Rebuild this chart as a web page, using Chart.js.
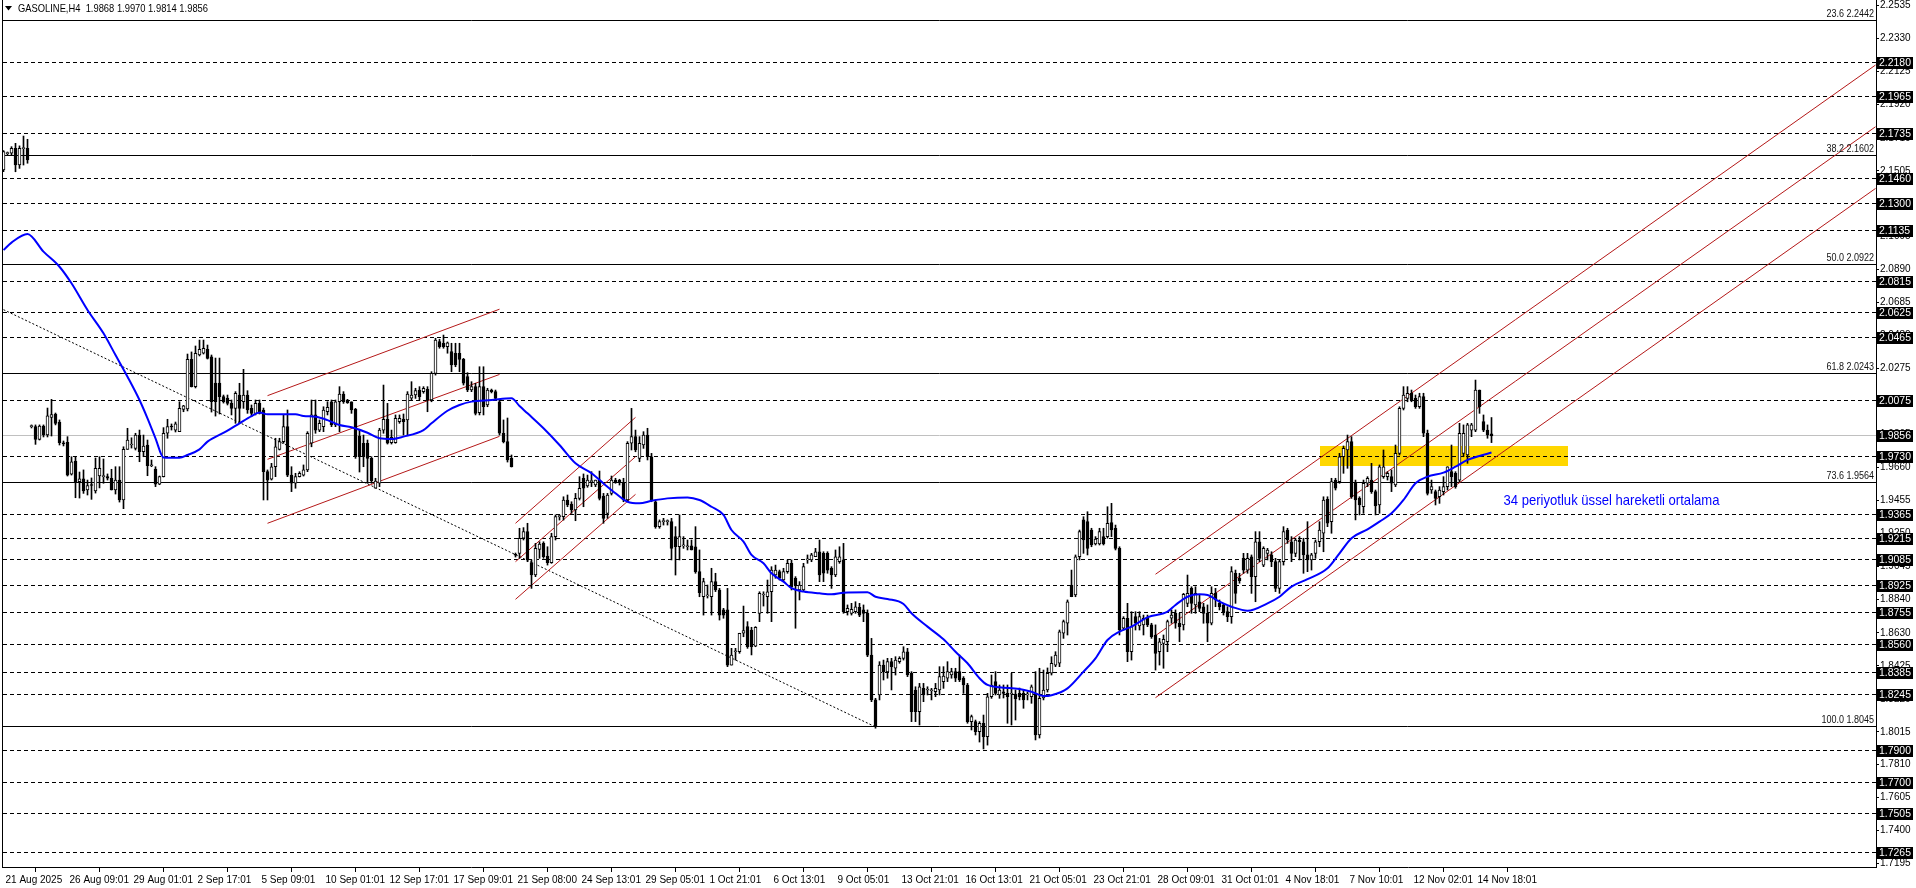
<!DOCTYPE html>
<html><head><meta charset="utf-8">
<script src="https://cdn.jsdelivr.net/npm/chart.js@4.4.1/dist/chart.umd.min.js"></script>
<style>html,body{margin:0;padding:0;background:#fff;overflow:hidden}#wrap{width:1916px;height:888px;position:relative}canvas{display:block}</style>
</head><body><div id="wrap"><canvas id="c" width="1916" height="888"></canvas></div>
<script>
// ---------- DATA ----------
const symbolTitle = 'GASOLINE,H4  1.9868 1.9970 1.9814 1.9856';
const timeLabels = ['21 Aug 2025','26 Aug 09:01','29 Aug 01:01','2 Sep 17:01','5 Sep 09:01','10 Sep 01:01','12 Sep 17:01','17 Sep 09:01','21 Sep 08:00','24 Sep 13:01','29 Sep 05:01','1 Oct 21:01','6 Oct 13:01','9 Oct 05:01','13 Oct 21:01','16 Oct 13:01','21 Oct 05:01','23 Oct 21:01','28 Oct 09:01','31 Oct 01:01','4 Nov 18:01','7 Nov 10:01','12 Nov 02:01','14 Nov 18:01'];
const timeLabelBars = [0,16,32,48,64,80,96,112,128,144,160,176,192,208,224,240,256,272,288,304,320,336,352,368];
const priceTicks = [2.2535,2.2330,2.2125,2.1920,2.1710,2.1505,2.1300,2.1095,2.0890,2.0685,2.0480,2.0275,2.0070,1.9865,1.9660,1.9455,1.9250,1.9045,1.8840,1.8630,1.8425,1.8220,1.8015,1.7810,1.7605,1.7400,1.7195];
const priceMin = 1.71736, priceMax = 2.25676;

const opens = [
2.1510,2.1612,2.1614,2.1645,2.1541,2.1643,2.1645,1.9913,1.9913,1.9834,
1.9917,1.9861,1.9970,1.9992,1.9942,1.9813,1.9816,1.9618,1.9699,1.9571,
1.9589,1.9519,1.9550,1.9514,1.9606,1.9602,1.9602,1.9592,1.9519,1.9581,
1.9457,1.9772,1.9799,1.9778,1.9861,1.9757,1.9799,1.9670,1.9650,1.9556,
1.9602,1.9872,1.9913,1.9892,1.9882,2.0021,2.0023,2.0332,2.0162,2.0359,
2.0370,2.0394,2.0348,2.0185,2.0185,2.0100,2.0091,2.0058,2.0027,2.0110,
2.0068,2.0110,2.0027,1.9996,2.0058,2.0017,1.9633,1.9586,1.9664,1.9772,
1.9820,1.9913,1.9612,1.9561,1.9602,1.9612,1.9644,1.9810,1.9986,1.9892,
1.9913,2.0006,2.0068,1.9924,2.0068,2.0116,2.0079,2.0068,2.0021,1.9855,
1.9810,1.9810,1.9716,1.9530,1.9561,1.9892,1.9959,1.9813,1.9813,1.9944,
1.9961,1.9955,2.0091,2.0110,2.0141,2.0131,2.0146,2.0079,2.0245,2.0442,
2.0432,2.0411,2.0380,2.0370,2.0370,2.0332,2.0224,2.0141,2.0162,2.0000,
2.0162,2.0048,2.0141,2.0131,2.0068,1.9872,1.9820,1.9716,1.9115,1.9125,
1.9219,1.9260,1.9067,1.8990,1.9150,1.9187,1.9108,1.9067,1.9229,1.9353,
1.9353,1.9457,1.9432,1.9395,1.9467,1.9592,1.9544,1.9571,1.9550,1.9581,
1.9482,1.9374,1.9498,1.9581,1.9581,1.9561,1.9457,1.9810,1.9851,1.9716,
1.9799,1.9861,1.9726,1.9446,1.9291,1.9322,1.9322,1.9322,1.9229,1.9166,
1.9171,1.9166,1.9171,1.9166,1.9011,1.8855,1.8860,1.8855,1.8949,1.8897,
1.8773,1.8773,1.8430,1.8513,1.8513,1.8628,1.8669,1.8648,1.8548,1.8752,
1.8866,1.8855,1.8886,1.8990,1.9011,1.8959,1.9011,1.9063,1.8970,1.8897,
1.8897,1.9084,1.9084,1.9104,1.9135,1.9125,1.9125,1.9032,1.8990,1.9073,
1.9084,1.8762,1.8752,1.8762,1.8789,1.8773,1.8752,1.8492,1.8213,1.8244,
1.8430,1.8388,1.8451,1.8410,1.8451,1.8472,1.8513,1.8379,1.8275,1.8140,
1.8285,1.8275,1.8270,1.8264,1.8275,1.8327,1.8348,1.8368,1.8389,1.8389,
1.8348,1.8306,1.8078,1.8078,1.8015,1.8068,1.7984,1.8233,1.8327,1.8244,
1.8264,1.8254,1.8250,1.8250,1.8254,1.8254,1.8244,1.8233,1.8254,1.7995,
1.8225,1.8275,1.8379,1.8430,1.8441,1.8628,1.8690,1.8928,1.8866,1.9104,
1.9333,1.9322,1.9270,1.9183,1.9183,1.9229,1.9229,1.9316,1.9281,1.9156,
1.8659,1.8721,1.8513,1.8731,1.8673,1.8680,1.8721,1.8680,1.8617,1.8513,
1.8565,1.8575,1.8721,1.8752,1.8690,1.8680,1.8814,1.8907,1.8804,1.8824,
1.8793,1.8752,1.8690,1.8876,1.8814,1.8804,1.8762,1.8731,1.9001,1.8970,
1.9094,1.9021,1.9104,1.8980,1.9197,1.9052,1.9125,1.9115,1.9073,1.8907,
1.9073,1.9270,1.9197,1.9125,1.9208,1.9197,1.9115,1.9084,1.9125,1.9197,
1.9250,1.9461,1.9322,1.9581,1.9571,1.9726,1.9768,1.9820,1.9561,1.9467,
1.9415,1.9561,1.9581,1.9509,1.9426,1.9602,1.9602,1.9602,1.9550,1.9747,
2.0027,2.0089,2.0121,2.0089,2.0037,2.0100,1.9872,1.9519,1.9509,1.9477,
1.9509,1.9540,1.9633,1.9623,1.9581,1.9747,1.9737,1.9892,1.9892,2.0141,
1.9944,1.9892,1.9868];

const highs = [
2.1630,2.1622,2.1655,2.1676,2.1660,2.1721,2.1701,1.9924,1.9924,1.9924,
1.9924,2.0029,2.0083,1.9998,1.9955,1.9824,1.9851,1.9726,1.9726,1.9631,
1.9644,1.9581,1.9594,1.9718,1.9726,1.9712,1.9619,1.9648,1.9664,1.9664,
1.9788,1.9903,1.9844,1.9872,1.9892,1.9861,1.9830,1.9706,1.9664,1.9606,
1.9907,1.9959,1.9930,1.9942,2.0068,2.0046,2.0365,2.0378,2.0415,2.0452,
2.0452,2.0421,2.0359,2.0340,2.0340,2.0110,2.0110,2.0079,2.0131,2.0183,
2.0270,2.0137,2.0048,2.0079,2.0079,2.0029,1.9644,1.9685,1.9841,1.9841,
1.9986,2.0017,1.9664,1.9623,1.9633,1.9675,1.9882,2.0079,2.0079,1.9955,
2.0037,2.0068,2.0079,2.0079,2.0162,2.0131,2.0083,2.0068,2.0027,1.9892,
1.9861,1.9830,1.9726,1.9592,1.9903,2.0172,2.0058,1.9892,1.9986,1.9986,
1.9992,2.0131,2.0193,2.0152,2.0162,2.0162,2.0162,2.0255,2.0463,2.0457,
2.0483,2.0440,2.0432,2.0432,2.0432,2.0338,2.0249,2.0193,2.0183,2.0286,
2.0286,2.0152,2.0147,2.0141,2.0079,1.9955,1.9967,1.9737,1.9127,1.9281,
1.9285,1.9312,1.9084,1.9187,1.9197,1.9197,1.9166,1.9250,1.9364,1.9364,
1.9477,1.9488,1.9446,1.9498,1.9602,1.9619,1.9612,1.9633,1.9581,1.9637,
1.9498,1.9498,1.9606,1.9592,1.9586,1.9592,1.9820,2.0027,1.9892,1.9851,
1.9882,1.9903,1.9747,1.9457,1.9333,1.9343,1.9333,1.9343,1.9291,1.9364,
1.9229,1.9208,1.9208,1.9291,1.9146,1.8970,1.8928,1.9032,1.9001,1.8907,
1.8783,1.8907,1.8534,1.8534,1.8628,1.8797,1.8700,1.8665,1.8669,1.8886,
1.8886,1.8959,1.9042,1.9052,1.9021,1.9032,1.9084,1.9084,1.8980,1.8949,
1.9063,1.9115,1.9125,1.9156,1.9208,1.9135,1.9135,1.9042,1.9146,1.9166,
1.9187,1.8804,1.8814,1.8824,1.8814,1.8804,1.8773,1.8596,1.8223,1.8451,
1.8461,1.8472,1.8472,1.8482,1.8482,1.8544,1.8534,1.8389,1.8295,1.8316,
1.8316,1.8295,1.8285,1.8316,1.8420,1.8420,1.8451,1.8410,1.8410,1.8492,
1.8358,1.8316,1.8119,1.8088,1.8078,1.8119,1.8254,1.8368,1.8389,1.8306,
1.8306,1.8306,1.8379,1.8275,1.8287,1.8275,1.8262,1.8306,1.8389,1.8410,
1.8399,1.8412,1.8482,1.8513,1.8648,1.8710,1.8835,1.9021,1.9115,1.9270,
1.9353,1.9384,1.9281,1.9229,1.9281,1.9281,1.9415,1.9436,1.9301,1.9166,
1.8731,1.8814,1.8762,1.8762,1.8762,1.8741,1.8741,1.8690,1.8680,1.8596,
1.8617,1.8710,1.8773,1.8773,1.8752,1.8876,1.8990,1.8917,1.8917,1.8866,
1.8814,1.8804,1.8917,1.8907,1.8835,1.8814,1.8793,1.9042,1.9021,1.9001,
1.9125,1.9125,1.9115,1.9260,1.9260,1.9166,1.9156,1.9135,1.9094,1.9084,
1.9291,1.9281,1.9229,1.9219,1.9229,1.9219,1.9322,1.9125,1.9208,1.9322,
1.9477,1.9477,1.9592,1.9592,1.9747,1.9793,1.9861,1.9851,1.9581,1.9477,
1.9581,1.9602,1.9685,1.9519,1.9675,1.9768,1.9633,1.9644,1.9799,2.0037,
2.0162,2.0162,2.0141,2.0110,2.0121,2.0121,1.9892,1.9581,1.9519,1.9540,
1.9602,1.9664,1.9799,1.9633,1.9934,1.9924,1.9934,1.9934,2.0203,2.0141,
1.9986,1.9924,1.9970];

const lows = [
2.1500,2.1600,2.1600,2.1499,2.1520,2.1541,2.1552,1.9905,1.9803,1.9830,
1.9849,1.9849,1.9855,1.9924,1.9799,1.9793,1.9606,1.9612,1.9471,1.9469,
1.9498,1.9488,1.9461,1.9500,1.9532,1.9561,1.9581,1.9519,1.9494,1.9444,
1.9403,1.9772,1.9780,1.9768,1.9695,1.9726,1.9608,1.9664,1.9540,1.9552,
1.9600,1.9841,1.9892,1.9880,1.9882,2.0006,2.0011,2.0160,2.0154,2.0353,
2.0365,2.0334,2.0004,1.9979,1.9992,2.0060,2.0048,1.9986,1.9934,1.9934,
2.0027,1.9996,1.9975,1.9986,1.9992,1.9457,1.9457,1.9581,1.9602,1.9768,
1.9810,1.9602,1.9509,1.9530,1.9600,1.9606,1.9633,1.9788,1.9872,1.9882,
1.9882,1.9986,1.9913,1.9913,1.9882,2.0058,2.0058,1.9996,1.9716,1.9631,
1.9664,1.9561,1.9561,1.9530,1.9540,1.9872,1.9805,1.9805,1.9810,1.9934,
1.9861,1.9861,2.0079,2.0089,2.0079,2.0121,2.0006,2.0068,2.0234,2.0401,
2.0401,2.0370,2.0255,2.0286,2.0255,2.0172,2.0131,2.0131,1.9986,1.9986,
1.9986,2.0037,2.0123,2.0079,1.9861,1.9812,1.9693,1.9662,1.9102,1.9094,
1.9208,1.9073,1.8907,1.8980,1.9094,1.9094,1.9052,1.9063,1.9208,1.9332,
1.9332,1.9415,1.9374,1.9328,1.9457,1.9415,1.9536,1.9540,1.9540,1.9457,
1.9312,1.9343,1.9488,1.9561,1.9550,1.9446,1.9446,1.9768,1.9757,1.9695,
1.9778,1.9706,1.9446,1.9281,1.9281,1.9301,1.9301,1.9084,1.8990,1.9084,
1.9156,1.9146,1.9146,1.9001,1.8855,1.8741,1.8847,1.8741,1.8887,1.8710,
1.8721,1.8420,1.8430,1.8461,1.8503,1.8606,1.8534,1.8493,1.8544,1.8700,
1.8797,1.8752,1.8700,1.8970,1.8959,1.8949,1.9001,1.8897,1.8659,1.8835,
1.8887,1.9063,1.9073,1.9104,1.8949,1.8949,1.9001,1.8907,1.8980,1.9063,
1.8752,1.8741,1.8741,1.8752,1.8731,1.8700,1.8482,1.8202,1.8037,1.8213,
1.8337,1.8348,1.8275,1.8368,1.8441,1.8461,1.8358,1.8078,1.8078,1.8057,
1.8202,1.8244,1.8213,1.8233,1.8244,1.8285,1.8327,1.8348,1.8327,1.8327,
1.8254,1.8068,1.8026,1.7995,1.7951,1.7908,1.7932,1.8223,1.8244,1.8223,
1.8225,1.8068,1.8057,1.8088,1.8213,1.8161,1.8213,1.8192,1.7964,1.7976,
1.8213,1.8262,1.8368,1.8420,1.8420,1.8596,1.8617,1.8855,1.8855,1.9084,
1.9125,1.9115,1.9166,1.9177,1.9177,1.9177,1.9219,1.9229,1.9146,1.8617,
1.8648,1.8451,1.8461,1.8648,1.8648,1.8617,1.8669,1.8596,1.8399,1.8430,
1.8410,1.8513,1.8690,1.8659,1.8575,1.8648,1.8793,1.8752,1.8752,1.8762,
1.8690,1.8575,1.8680,1.8793,1.8773,1.8741,1.8700,1.8690,1.8814,1.8939,
1.9001,1.9001,1.8876,1.8824,1.9073,1.9042,1.9084,1.9042,1.8887,1.8876,
1.9052,1.9187,1.9073,1.9104,1.9084,1.9001,1.9011,1.9021,1.9094,1.9166,
1.9135,1.9291,1.9250,1.9519,1.9561,1.9623,1.9654,1.9467,1.9333,1.9364,
1.9374,1.9540,1.9498,1.9364,1.9374,1.9592,1.9581,1.9509,1.9540,1.9737,
2.0017,2.0068,2.0068,2.0027,2.0027,1.9851,1.9488,1.9498,1.9426,1.9436,
1.9488,1.9519,1.9540,1.9530,1.9571,1.9726,1.9685,1.9851,1.9882,1.9996,
1.9882,1.9841,1.9814];

const closes = [
2.1624,2.1616,2.1645,2.1541,2.1645,2.1647,2.1572,1.9917,1.9834,1.9917,
1.9861,1.9980,1.9989,1.9934,1.9813,1.9805,1.9612,1.9695,1.9571,1.9589,
1.9514,1.9546,1.9547,1.9654,1.9654,1.9604,1.9592,1.9519,1.9581,1.9457,
1.9772,1.9830,1.9805,1.9861,1.9757,1.9793,1.9670,1.9672,1.9556,1.9602,
1.9872,1.9913,1.9911,1.9930,2.0027,2.0042,2.0332,2.0162,2.0370,2.0394,
2.0401,2.0338,2.0068,2.0068,2.0100,2.0068,2.0058,2.0027,2.0121,2.0027,
2.0110,2.0017,1.9996,2.0058,1.9996,1.9633,1.9581,1.9664,1.9788,1.9820,
1.9913,1.9612,1.9561,1.9602,1.9623,1.9644,1.9872,1.9986,1.9892,1.9934,
2.0017,2.0034,1.9924,2.0068,2.0116,2.0068,2.0062,2.0017,1.9726,1.9726,
1.9726,1.9716,1.9577,1.9575,1.9892,1.9959,1.9810,1.9847,1.9965,1.9965,
1.9944,2.0116,2.0110,2.0137,2.0100,2.0152,2.0079,2.0245,2.0452,2.0411,
2.0411,2.0435,2.0297,2.0297,2.0332,2.0183,2.0141,2.0162,1.9996,2.0162,
2.0037,2.0141,2.0131,2.0089,1.9872,1.9820,1.9706,1.9664,1.9113,1.9219,
1.9260,1.9084,1.8990,1.9156,1.9183,1.9104,1.9067,1.9229,1.9353,1.9354,
1.9457,1.9426,1.9395,1.9467,1.9530,1.9530,1.9581,1.9572,1.9581,1.9467,
1.9343,1.9488,1.9581,1.9571,1.9564,1.9457,1.9810,1.9851,1.9768,1.9810,
1.9861,1.9726,1.9457,1.9291,1.9322,1.9323,1.9323,1.9156,1.9166,1.9229,
1.9172,1.9167,1.9146,1.9011,1.8880,1.8949,1.8862,1.8949,1.8897,1.8741,
1.8741,1.8430,1.8492,1.8514,1.8628,1.8644,1.8544,1.8544,1.8665,1.8876,
1.8867,1.8886,1.9021,1.9021,1.8970,1.9011,1.9063,1.8918,1.8928,1.8928,
1.9042,1.9085,1.9115,1.9135,1.8990,1.9001,1.9021,1.8990,1.9104,1.9104,
1.8762,1.8783,1.8777,1.8793,1.8741,1.8752,1.8492,1.8213,1.8046,1.8430,
1.8388,1.8451,1.8420,1.8461,1.8472,1.8513,1.8368,1.8140,1.8140,1.8295,
1.8244,1.8276,1.8272,1.8285,1.8358,1.8362,1.8389,1.8389,1.8348,1.8337,
1.8306,1.8078,1.8109,1.8015,1.8068,1.7984,1.8233,1.8306,1.8254,1.8275,
1.8254,1.8233,1.8251,1.8219,1.8233,1.8213,1.8245,1.8295,1.7995,1.8223,
1.8275,1.8379,1.8441,1.8492,1.8637,1.8700,1.8824,1.8855,1.9104,1.9260,
1.9208,1.9156,1.9177,1.9214,1.9260,1.9183,1.9312,1.9270,1.9156,1.8648,
1.8721,1.8513,1.8669,1.8690,1.8731,1.8721,1.8680,1.8606,1.8503,1.8575,
1.8590,1.8700,1.8741,1.8690,1.8669,1.8870,1.8876,1.8814,1.8876,1.8783,
1.8752,1.8690,1.8876,1.8835,1.8793,1.8762,1.8731,1.9011,1.8876,1.8955,
1.9021,1.9094,1.8980,1.9197,1.9094,1.9156,1.9146,1.9073,1.8907,1.9073,
1.9260,1.9208,1.9125,1.9208,1.9197,1.9115,1.9084,1.9115,1.9197,1.9270,
1.9457,1.9312,1.9571,1.9530,1.9726,1.9778,1.9820,1.9477,1.9457,1.9426,
1.9561,1.9592,1.9509,1.9420,1.9664,1.9664,1.9623,1.9561,1.9747,2.0027,
2.0110,2.0121,2.0079,2.0037,2.0100,1.9872,1.9498,1.9540,1.9467,1.9519,
1.9540,1.9664,1.9602,1.9540,1.9872,1.9872,1.9924,1.9924,2.0141,2.0037,
1.9892,1.9861,1.9856];

// 34-period exponential moving average (bar index, value)
const emaBars = [0,2,6,10,14,17,21,25,28,31,34,36,38,40,44,46,49,51,56,59,
62,64,66,70,73,75,78,81,84,87,91,94,97,100,105,107,111,114,117,122,
127,129,131,135,139,143,147,150,153,156,159,162,166,171,174,177,180,182,185,187,
190,192,195,197,200,204,207,210,216,218,221,225,227,231,235,238,241,244,246,249,
254,257,260,262,266,270,273,276,279,282,286,291,293,296,299,301,304,307,311,316,
319,322,326,331,334,337,341,344,347,350,353,356,360,363,366,369,372];
const emaValues = [2.1012,2.1058,2.1112,2.1002,2.0908,2.0805,2.0639,2.0494,2.0359,2.0224,2.0079,1.9965,1.9841,1.9722,1.9720,1.9737,1.9772,1.9820,1.9888,1.9934,
1.9979,2.0002,1.9990,1.9991,1.9991,1.9979,1.9975,1.9954,1.9923,1.9909,1.9875,1.9841,1.9836,1.9851,1.9892,1.9934,2.0012,2.0048,2.0069,2.0079,
2.0090,2.0042,1.9996,1.9903,1.9799,1.9685,1.9623,1.9560,1.9499,1.9446,1.9436,1.9452,1.9467,1.9473,1.9457,1.9415,1.9364,1.9270,1.9198,1.9115,
1.9063,1.9001,1.8949,1.8908,1.8887,1.8876,1.8870,1.8880,1.8883,1.8855,1.8841,1.8810,1.8752,1.8669,1.8590,1.8513,1.8441,1.8348,1.8306,1.8292,
1.8281,1.8264,1.8237,1.8242,1.8285,1.8389,1.8472,1.8586,1.8638,1.8669,1.8727,1.8762,1.8804,1.8855,1.8870,1.8866,1.8824,1.8793,1.8768,1.8814,
1.8855,1.8918,1.8964,1.9032,1.9125,1.9219,1.9274,1.9322,1.9374,1.9457,1.9561,1.9602,1.9627,1.9664,1.9706,1.9731,1.9752];

// horizontal levels (dashed), last price, fibonacci levels
const dashedLevels = [2.2180,2.1965,2.1735,2.1460,2.1300,2.1135,2.0815,2.0625,2.0465,2.0075,1.9730,1.9365,1.9215,1.9085,1.8925,1.8755,1.8560,1.8385,1.8245,1.7900,1.7700,1.7505,1.7265];
const lastPrice = 1.9856;
const fibRatios = ['23.6','38.2','50.0','61.8','73.6','100.0'];
const fibPrices = [2.2442,2.1602,2.0922,2.0243,1.9564,1.8045];

// trend line and channel lines: [bar1, price1, bar2, price2]
const trendLine = [0, 2.0641, 218, 1.8045];
const channelLines = [
  [66, 2.0106, 124, 2.0644], [66, 1.9710, 124, 2.0238], [66, 1.9312, 124, 1.9853],
  [128, 1.9312, 158, 1.9971], [128, 1.9073, 158, 1.9726], [128, 1.8839, 158, 1.9492],
  [288, 1.8995, 468, 2.2163], [288, 1.8613, 468, 2.1779], [288, 1.8227, 468, 2.1395]
];
const zoneBox = [329, 1.9793, 391, 1.9668];
const emaNote = '34 periyotluk üssel hareketli ortalama';
const emaNoteAnchor = [375, 1.9451];

// ---------- CHART ----------
const FONT = "'Liberation Sans', Arial, sans-serif";
const idx = opens.map((_, i) => i);
const bodyData = idx.map(i => ({x: i, y: [opens[i], closes[i]]}));
const wickData = idx.map(i => ({x: i, y: [lows[i], highs[i]]}));
const emaData = emaBars.map((b, k) => ({x: b, y: emaValues[k]}));

function crisp(v) { return Math.floor(v) + 0.5; }
function drawScaledText(ctx, s, x, y, font, color, align, sx) {
  ctx.save();
  ctx.font = font; ctx.fillStyle = color; ctx.textBaseline = 'middle'; ctx.textAlign = align;
  ctx.translate(x, y); ctx.scale(sx, 1); ctx.fillText(s, 0, 0);
  ctx.restore();
}

const overlay = {
  id: 'overlay',
  beforeDatasetsDraw(chart) {
    const {ctx, chartArea: a, scales: {x, y}} = chart;
    ctx.save();
    ctx.beginPath(); ctx.rect(a.left, a.top, a.right - a.left, a.bottom - a.top); ctx.clip();
    // yellow zone
    const bx1 = x.getPixelForValue(zoneBox[0]), bx2 = x.getPixelForValue(zoneBox[2]);
    const by1 = y.getPixelForValue(zoneBox[1]), by2 = y.getPixelForValue(zoneBox[3]);
    ctx.fillStyle = '#ffd700';
    ctx.fillRect(Math.round(bx1), Math.round(by1), Math.round(bx2 - bx1), Math.round(by2 - by1));
    // last price line
    ctx.strokeStyle = '#c0c0c0'; ctx.lineWidth = 1; ctx.setLineDash([]);
    let py = crisp(y.getPixelForValue(lastPrice));
    ctx.beginPath(); ctx.moveTo(a.left, py); ctx.lineTo(a.right, py); ctx.stroke();
    // dashed horizontal levels
    ctx.strokeStyle = '#000'; ctx.setLineDash([4, 3]);
    dashedLevels.forEach(v => {
      const p = crisp(y.getPixelForValue(v));
      ctx.beginPath(); ctx.moveTo(a.left, p); ctx.lineTo(a.right, p); ctx.stroke();
    });
    // fibonacci levels
    ctx.setLineDash([]);
    fibPrices.forEach(v => {
      const p = crisp(y.getPixelForValue(v));
      ctx.beginPath(); ctx.moveTo(a.left, p); ctx.lineTo(a.right, p); ctx.stroke();
    });
    // dotted trend line
    ctx.setLineDash([2, 2]); ctx.strokeStyle = '#000';
    ctx.beginPath();
    ctx.moveTo(x.getPixelForValue(trendLine[0]), y.getPixelForValue(trendLine[1]));
    ctx.lineTo(x.getPixelForValue(trendLine[2]), y.getPixelForValue(trendLine[3]));
    ctx.stroke();
    // channel lines
    ctx.setLineDash([]); ctx.strokeStyle = 'rgb(180,24,24)'; ctx.lineWidth = 1;
    channelLines.forEach(l => {
      ctx.beginPath();
      ctx.moveTo(x.getPixelForValue(l[0]), y.getPixelForValue(l[1]));
      ctx.lineTo(x.getPixelForValue(l[2]), y.getPixelForValue(l[3]));
      ctx.stroke();
    });
    ctx.restore();
  },
  afterDraw(chart) {
    const {ctx, chartArea: a, scales: {x, y}} = chart;
    ctx.save();
    // left frame line
    ctx.fillStyle = '#000'; ctx.fillRect(a.left - 1, 0, 1, a.bottom + 1);
    // fib labels
    fibPrices.forEach((v, k) => {
      const p = crisp(y.getPixelForValue(v));
      drawScaledText(ctx, fibRatios[k] + ' ' + v.toFixed(4), a.right - 2, p - 6, '10px ' + FONT, '#111', 'right', 0.9);
    });
    // price boxes on axis
    const boxes = dashedLevels.concat([lastPrice]);
    boxes.forEach(v => {
      const p = crisp(y.getPixelForValue(v));
      ctx.fillStyle = '#000';
      ctx.fillRect(a.right + 1, Math.round(p - 6), 36, 12);
      drawScaledText(ctx, v.toFixed(4), a.right + 3, p + 0.5, '11px ' + FONT, '#fff', 'left', 0.95);
    });
    // header
    ctx.fillStyle = '#000';
    ctx.beginPath(); ctx.moveTo(5, 6); ctx.lineTo(12, 6); ctx.lineTo(8.5, 10.5); ctx.closePath(); ctx.fill();
    ctx.font = '11px ' + FONT;
    const hw = ctx.measureText(symbolTitle).width;
    drawScaledText(ctx, symbolTitle, 18, 9, '11px ' + FONT, '#000', 'left', 190 / hw);
    // EMA annotation
    ctx.font = '15px ' + FONT;
    const nw = ctx.measureText(emaNote).width;
    drawScaledText(ctx, emaNote, x.getPixelForValue(emaNoteAnchor[0]), y.getPixelForValue(emaNoteAnchor[1]), '15px ' + FONT, '#0000ff', 'left', 216 / nw);
    ctx.restore();
  }
};

new Chart(document.getElementById('c'), {
  type: 'bar',
  data: {
    datasets: [
      { type: 'line', label: 'EMA34', data: emaData, borderColor: '#0000ff', borderWidth: 2, pointRadius: 0, fill: false, cubicInterpolationMode: 'monotone', order: 0 },
      { label: 'bodies', data: bodyData, backgroundColor: idx.map(i => closes[i] >= opens[i] ? '#ffffff' : '#000000'), borderColor: '#000', borderWidth: 1, borderSkipped: false, barThickness: 3, minBarLength: 1, grouped: false, order: 1 },
      { label: 'wicks', data: wickData, backgroundColor: '#000', borderWidth: 0, barThickness: 1, minBarLength: 1, grouped: false, order: 2 }
    ]
  },
  options: {
    responsive: false, animation: false, devicePixelRatio: 1, events: [],
    layout: { padding: { left: 3, top: 0, right: 0, bottom: 0 }, autoPadding: false },
    plugins: { legend: { display: false }, tooltip: { enabled: false } },
    scales: {
      x: {
        type: 'linear', min: -0.125, max: 468.125, offset: false,
        afterBuildTicks: s => { s.ticks = timeLabelBars.map(v => ({ value: v })); },
        afterFit: s => { s.height = 21; s.paddingLeft = 0; s.paddingRight = 0; s.paddingTop = 0; s.paddingBottom = 0; },
        ticks: { autoSkip: false, maxRotation: 0, align: 'start', labelOffset: 2, padding: 2, color: '#000', font: { family: FONT, size: 10 }, callback: (v, i) => timeLabels[i] },
        grid: { drawOnChartArea: false, drawTicks: true, tickLength: 5, color: '#000' },
        border: { display: true, color: '#000', width: 1 }
      },
      y: {
        type: 'linear', position: 'right', min: priceMin, max: priceMax,
        afterBuildTicks: s => { s.ticks = priceTicks.map(v => ({ value: v })); },
        afterFit: s => { s.width = 40; s.paddingTop = 0; s.paddingBottom = 0; s.paddingLeft = 0; s.paddingRight = 0; },
        ticks: { autoSkip: false, padding: 1, color: '#000', font: { family: FONT, size: 10 }, callback: v => Number(v).toFixed(4) },
        grid: { drawOnChartArea: false, drawTicks: true, tickLength: 3, color: '#000' },
        border: { display: true, color: '#000', width: 1 }
      }
    }
  },
  plugins: [overlay]
});
</script>
</body></html>
